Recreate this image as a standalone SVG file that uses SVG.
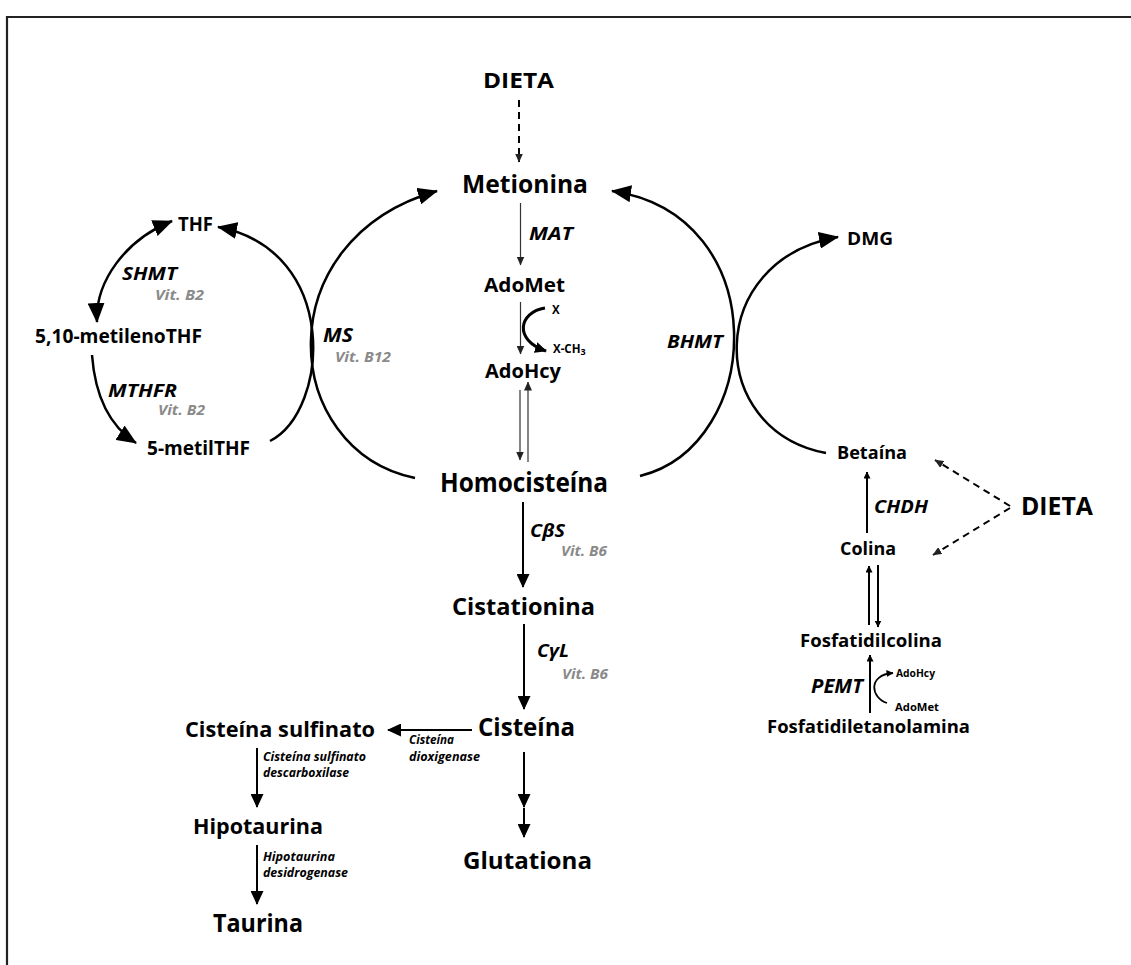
<svg xmlns="http://www.w3.org/2000/svg" width="1131" height="965" viewBox="0 0 1131 965">
<style>
text{font-family:"Open Sans",Lato,"Liberation Sans",sans-serif;fill:#000}
.b{font-weight:bold}
.i{font-style:italic;font-weight:bold}
.v{font-style:italic;font-weight:bold;fill:#8a8a8a;font-size:13.5px}
.arc{fill:none;stroke:#000;stroke-width:2.5}
.thick{fill:none;stroke:#000;stroke-width:2}
.thin{fill:none;stroke:#333;stroke-width:1.2}
.dash{fill:none;stroke:#000;stroke-width:2;stroke-dasharray:7 5}
</style>
<defs>
<marker id="big" viewBox="0 0 20 17" refX="19" refY="8.5" markerWidth="20" markerHeight="17" markerUnits="userSpaceOnUse" orient="auto-start-reverse"><path d="M0,0 L20,8.5 L0,17 z" fill="#000"/></marker>
<marker id="med" viewBox="0 0 14 13" refX="13" refY="6.5" markerWidth="14" markerHeight="13" markerUnits="userSpaceOnUse" orient="auto"><path d="M0,0 L14,6.5 L0,13 z" fill="#000"/></marker>
<marker id="sm" viewBox="0 0 9 8" refX="8.5" refY="4" markerWidth="9" markerHeight="8" markerUnits="userSpaceOnUse" orient="auto"><path d="M0,0 L9,4 L0,8 z" fill="#222"/></marker>
<marker id="tiny" viewBox="0 0 7 7" refX="6.5" refY="3.5" markerWidth="7" markerHeight="7" markerUnits="userSpaceOnUse" orient="auto"><path d="M0,0 L7,3.5 L0,7 z" fill="#000"/></marker>
<marker id="curl" viewBox="0 0 12 11" refX="11" refY="5.5" markerWidth="12" markerHeight="11" markerUnits="userSpaceOnUse" orient="auto"><path d="M0,0 L12,5.5 L0,11 z" fill="#000"/></marker>
</defs>
<rect width="1131" height="965" fill="#fff"/>
<g id="frame"><path d="M7,965 L7,17 L1131,17" fill="none" stroke="#222" stroke-width="2.2"/></g>

<g id="connectors">
<line x1="519" y1="100" x2="519" y2="162" class="dash" marker-end="url(#sm)"/>
<line x1="520.5" y1="203" x2="520.5" y2="265" class="thin" marker-end="url(#sm)"/>
<line x1="520.5" y1="302" x2="520.5" y2="354" class="thin" marker-end="url(#sm)"/>
<path d="M545,308 C519,312 513,340 546,351" fill="none" stroke="#000" stroke-width="3" marker-end="url(#curl)"/>
<line x1="520" y1="390" x2="520" y2="460" class="thin" marker-end="url(#sm)"/>
<line x1="528" y1="462" x2="528" y2="382" class="thin" marker-end="url(#sm)"/>
<path d="M415,478 C280,450 265,240 437,191" class="arc" marker-end="url(#big)"/>
<path d="M270,441 C330,410 340,250 218,227" class="arc" marker-end="url(#big)"/>
<path d="M97,322 C95,282 125,240 172,221" class="arc" marker-start="url(#big)" marker-end="url(#big)"/>
<path d="M92,355 C95,395 108,425 136,443" class="arc" marker-end="url(#big)"/>
<path d="M640,476 C765,445 775,215 612,191" class="arc" marker-end="url(#big)"/>
<path d="M826,453 C705,430 705,260 838,237" class="arc" marker-end="url(#big)"/>
<line x1="867" y1="533" x2="867" y2="472" class="thick" marker-end="url(#tiny)"/>
<line x1="869" y1="625" x2="869" y2="566" class="thick" marker-end="url(#tiny)"/>
<line x1="878" y1="565" x2="878" y2="627" class="thick" marker-end="url(#tiny)"/>
<line x1="870" y1="713" x2="870" y2="655" class="thick" marker-end="url(#tiny)"/>
<path d="M887,703 C871,698 867,675 893,673" fill="none" stroke="#000" stroke-width="1.8" marker-end="url(#tiny)"/>
<line x1="1010" y1="506" x2="935" y2="460" class="dash" marker-end="url(#sm)"/>
<line x1="1010" y1="508" x2="933" y2="555" class="dash" marker-end="url(#sm)"/>
<line x1="523" y1="502" x2="523" y2="587" class="thick" marker-end="url(#med)"/>
<line x1="524" y1="624" x2="524" y2="709" class="thick" marker-end="url(#med)"/>
<line x1="472" y1="730" x2="388" y2="730" class="thick" marker-end="url(#med)"/>
<line x1="257" y1="748" x2="257" y2="807" class="thick" marker-end="url(#med)"/>
<line x1="257" y1="845" x2="257" y2="904" class="thick" marker-end="url(#med)"/>
<line x1="524" y1="752" x2="524" y2="807" class="thick" marker-end="url(#med)"/>
<line x1="524" y1="808" x2="524" y2="837" class="thick" marker-end="url(#med)"/>
</g>

<g id="n-dieta-top"><text x="483" y="88" class="b" font-size="22" textLength="71" lengthAdjust="spacingAndGlyphs">DIETA</text></g>
<g id="n-metionina"><text x="462" y="193" class="b" font-size="25" textLength="126" lengthAdjust="spacingAndGlyphs">Metionina</text></g>
<g id="l-mat"><text x="529" y="240" class="i" font-size="18" textLength="44" lengthAdjust="spacingAndGlyphs">MAT</text></g>
<g id="n-adomet"><text x="484" y="292" class="b" font-size="19.5" textLength="81" lengthAdjust="spacingAndGlyphs">AdoMet</text></g>
<g id="l-x"><text x="552" y="314" class="b" font-size="11.5">X</text><text x="553" y="353" class="b" font-size="11.5">X-CH<tspan font-size="9" dy="2">3</tspan></text></g>
<g id="n-adohcy"><text x="485" y="378" class="b" font-size="19.5" textLength="76" lengthAdjust="spacingAndGlyphs">AdoHcy</text></g>
<g id="n-homocisteina"><text x="440" y="492" class="b" font-size="26" textLength="168" lengthAdjust="spacingAndGlyphs">Homocisteína</text></g>
<g id="l-ms"><text x="323" y="342" class="i" font-size="19" textLength="30" lengthAdjust="spacingAndGlyphs">MS</text><text x="335" y="362" class="v" textLength="56" lengthAdjust="spacingAndGlyphs">Vit. B12</text></g>
<g id="n-thf"><text x="178" y="231" class="b" font-size="19" textLength="35" lengthAdjust="spacingAndGlyphs">THF</text></g>
<g id="l-shmt"><text x="122" y="280" class="i" font-size="18" textLength="55" lengthAdjust="spacingAndGlyphs">SHMT</text><text x="155" y="300" class="v" textLength="49" lengthAdjust="spacingAndGlyphs">Vit. B2</text></g>
<g id="n-metilenothf"><text x="35" y="343" class="b" font-size="20" textLength="167" lengthAdjust="spacingAndGlyphs">5,10-metilenoTHF</text></g>
<g id="l-mthfr"><text x="108" y="397" class="i" font-size="18" textLength="69" lengthAdjust="spacingAndGlyphs">MTHFR</text><text x="158" y="415" class="v" textLength="47" lengthAdjust="spacingAndGlyphs">Vit. B2</text></g>
<g id="n-metilthf"><text x="147" y="455" class="b" font-size="20" textLength="103" lengthAdjust="spacingAndGlyphs">5-metilTHF</text></g>
<g id="l-bhmt"><text x="667" y="348" class="i" font-size="18" textLength="56" lengthAdjust="spacingAndGlyphs">BHMT</text></g>
<g id="n-dmg"><text x="847" y="245" class="b" font-size="18" textLength="46" lengthAdjust="spacingAndGlyphs">DMG</text></g>
<g id="n-betaina"><text x="837" y="459" class="b" font-size="18" textLength="70" lengthAdjust="spacingAndGlyphs">Betaína</text></g>
<g id="l-chdh"><text x="874" y="513" class="i" font-size="18" textLength="54" lengthAdjust="spacingAndGlyphs">CHDH</text></g>
<g id="n-colina"><text x="840" y="555" class="b" font-size="18" textLength="56" lengthAdjust="spacingAndGlyphs">Colina</text></g>
<g id="n-dieta-right"><text x="1021" y="515" class="b" font-size="25" textLength="72" lengthAdjust="spacingAndGlyphs">DIETA</text></g>
<g id="n-fosfatidilcolina"><text x="800" y="647" class="b" font-size="18" textLength="142" lengthAdjust="spacingAndGlyphs">Fosfatidilcolina</text></g>
<g id="l-pemt"><text x="811" y="693" class="i" font-size="20" textLength="52" lengthAdjust="spacingAndGlyphs">PEMT</text><text x="896" y="677" class="b" font-size="11" textLength="39" lengthAdjust="spacingAndGlyphs">AdoHcy</text><text x="895" y="711" class="b" font-size="11" textLength="44" lengthAdjust="spacingAndGlyphs">AdoMet</text></g>
<g id="n-fosfatidiletanolamina"><text x="767" y="733" class="b" font-size="18" textLength="203" lengthAdjust="spacingAndGlyphs">Fosfatidiletanolamina</text></g>
<g id="l-cbs"><text x="530" y="537" class="i" font-size="18" textLength="35" lengthAdjust="spacingAndGlyphs">CβS</text><text x="561" y="556" class="v" textLength="46" lengthAdjust="spacingAndGlyphs">Vit. B6</text></g>
<g id="n-cistationina"><text x="452" y="615" class="b" font-size="24" textLength="143" lengthAdjust="spacingAndGlyphs">Cistationina</text></g>
<g id="l-cyl"><text x="537" y="657" class="i" font-size="18" textLength="32" lengthAdjust="spacingAndGlyphs">CγL</text><text x="562" y="679" class="v" textLength="46" lengthAdjust="spacingAndGlyphs">Vit. B6</text></g>
<g id="n-cisteina"><text x="478" y="736" class="b" font-size="25" textLength="97" lengthAdjust="spacingAndGlyphs">Cisteína</text></g>
<g id="l-dioxigenase"><text x="409" y="744" class="i" font-size="12" textLength="45" lengthAdjust="spacingAndGlyphs">Cisteína</text><text x="409" y="761" class="i" font-size="12" textLength="71" lengthAdjust="spacingAndGlyphs">dioxigenase</text></g>
<g id="n-cisteina-sulfinato"><text x="185" y="737" class="b" font-size="22" textLength="190" lengthAdjust="spacingAndGlyphs">Cisteína sulfinato</text></g>
<g id="l-descarboxilase"><text x="263" y="761" class="i" font-size="12" textLength="103" lengthAdjust="spacingAndGlyphs">Cisteína sulfinato</text><text x="263" y="777" class="i" font-size="12" textLength="86" lengthAdjust="spacingAndGlyphs">descarboxilase</text></g>
<g id="n-hipotaurina"><text x="193" y="834" class="b" font-size="22" textLength="130" lengthAdjust="spacingAndGlyphs">Hipotaurina</text></g>
<g id="l-desidrogenase"><text x="263" y="861" class="i" font-size="12" textLength="72" lengthAdjust="spacingAndGlyphs">Hipotaurina</text><text x="263" y="877" class="i" font-size="12" textLength="85" lengthAdjust="spacingAndGlyphs">desidrogenase</text></g>
<g id="n-taurina"><text x="213" y="932" class="b" font-size="25" textLength="90" lengthAdjust="spacingAndGlyphs">Taurina</text></g>
<g id="n-glutationa"><text x="463" y="869" class="b" font-size="24" textLength="129" lengthAdjust="spacingAndGlyphs">Glutationa</text></g>
</svg>
